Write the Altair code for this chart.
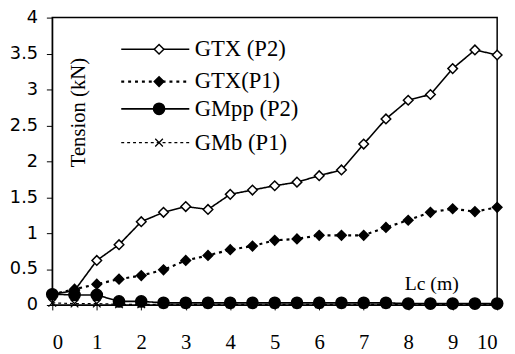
import altair as alt
import pandas as pd

lc = [0, 0.5, 1, 1.5, 2, 2.5, 3, 3.5, 4, 4.5, 5, 5.5, 6, 6.5, 7, 7.5, 8, 8.5, 9, 9.5, 10]
gtx_p2 = [0.15, 0.20, 0.62, 0.84, 1.16, 1.29, 1.37, 1.33, 1.54, 1.60, 1.66, 1.71, 1.80, 1.88, 2.24, 2.59, 2.85, 2.93, 3.29, 3.55, 3.48]
gtx_p1 = [0.15, 0.22, 0.29, 0.36, 0.41, 0.49, 0.62, 0.69, 0.77, 0.82, 0.90, 0.92, 0.97, 0.97, 0.97, 1.08, 1.18, 1.29, 1.34, 1.30, 1.36]
gmpp_p2 = [0.15, 0.14, 0.14, 0.05, 0.05, 0.03, 0.03, 0.03, 0.03, 0.03, 0.03, 0.03, 0.03, 0.03, 0.03, 0.03, 0.02, 0.02, 0.02, 0.02, 0.02]
gmb_p1 = [0.03, 0.02, 0.02, 0.01, 0.01, 0.01, 0.01, 0.01, 0.01, 0.01, 0.01, 0.01, 0.01, 0.01, 0.01, 0.01, 0.01, 0.01, 0.01, 0.01, 0.01]

series_names = ["GTX (P2)", "GTX(P1)", "GMpp (P2)", "GMb (P1)"]
y_ticks = [0, 0.5, 1, 1.5, 2, 2.5, 3, 3.5, 4]
x_ticks = [0, 1, 2, 3, 4, 5, 6, 7, 8, 9, 10]

# legend placement (data units)
leg_y = [3.56, 3.11, 2.73, 2.26]
leg_x1, leg_xm, leg_x2, leg_xt = 1.55, 2.4, 3.08, 3.2

X_SHAPE = "M-1,-1L1,1M1,-1L-1,1"

styles = {
    "GTX (P2)": dict(dash=[1, 0], sw=1.6, shape="diamond", fill="white", size=95),
    "GTX(P1)": dict(dash=[3, 4], sw=2.2, shape="diamond", fill="black", size=95),
    "GMpp (P2)": dict(dash=[1, 0], sw=1.6, shape="circle", fill="black", size=130),
    "GMb (P1)": dict(dash=[3, 3], sw=1.2, shape=X_SHAPE, fill="black", size=60),
}
values = {"GTX (P2)": gtx_p2, "GTX(P1)": gtx_p1, "GMpp (P2)": gmpp_p2, "GMb (P1)": gmb_p1}

x_scale = alt.Scale(domain=[0, 10], nice=False, zero=False)
y_scale = alt.Scale(domain=[0, 4], nice=False)

x_axis = alt.Axis(values=x_ticks, format="d", title="Lc (m)", titleX=385, titleY=-22, titleBaseline="middle",
                  titleFont="Liberation Serif", titleFontSize=20, titleFontWeight="normal",
                  labelFont="Liberation Serif", labelFontSize=21, labelPadding=22,
                  tickSize=5, grid=False, domainColor="black", tickColor="black", labelColor="black",
                  titleColor="black")
y_axis = alt.Axis(values=y_ticks, format="~g", title="Tension (kN)", titleX=27, titleY=96, titleAngle=-90,
                  titleBaseline="middle", titleAlign="center",
                  titleFont="Liberation Serif", titleFontSize=21, titleFontWeight="normal",
                  labelFont="DejaVu Sans", labelFontSize=18, labelPadding=9,
                  tickSize=6, grid=False, domainColor="black", tickColor="black", labelColor="black",
                  titleColor="black")


def X(field):
    return alt.X(field, scale=x_scale, axis=x_axis)


def Y(field):
    return alt.Y(field, scale=y_scale, axis=y_axis)


def point_layer(data, st, xf, yf):
    if st["shape"] == X_SHAPE:
        m = alt.Chart(data).mark_point(shape=X_SHAPE, size=st["size"], stroke="black", strokeWidth=1.3,
                                       filled=False, opacity=1)
    else:
        m = alt.Chart(data).mark_point(shape=st["shape"], size=st["size"], fill=st["fill"], stroke="black",
                                       strokeWidth=1.5, filled=True, fillOpacity=1, opacity=1)
    return m.encode(x=X(xf), y=Y(yf))


layers = []
for name in series_names:
    st = styles[name]
    df = pd.DataFrame({"Lc": lc, "T": values[name]})
    line = alt.Chart(df).mark_line(color="black", strokeWidth=st["sw"], strokeDash=st["dash"]).encode(
        x=X("Lc:Q"), y=Y("T:Q"))
    layers += [line, point_layer(df, st, "Lc:Q", "T:Q")]

# legend
for i, name in enumerate(series_names):
    st = styles[name]
    ldf = pd.DataFrame({"x1": [leg_x1], "x2": [leg_x2], "xm": [leg_xm], "xt": [leg_xt], "y": [leg_y[i]], "label": [name]})
    rule = alt.Chart(ldf).mark_rule(color="black", strokeWidth=st["sw"], strokeDash=st["dash"]).encode(
        x=X("x1:Q"), x2="x2:Q", y=Y("y:Q"))
    txt = alt.Chart(ldf).mark_text(align="left", baseline="middle", font="Liberation Serif", fontSize=23,
                                   color="black").encode(x=X("xt:Q"), y=Y("y:Q"), text="label:N")
    layers += [rule, point_layer(ldf, st, "xm:Q", "y:Q"), txt]

chart = alt.layer(*layers).properties(
    width=452, height=292,
    autosize=alt.AutoSizeParams(type="none"),
    padding={"left": 45, "top": 7, "right": 10, "bottom": 46},
    background="white",
).configure_view(stroke="black", strokeWidth=1.5)

chart.save("out.html", embed_options={"renderer": "svg", "actions": False})
